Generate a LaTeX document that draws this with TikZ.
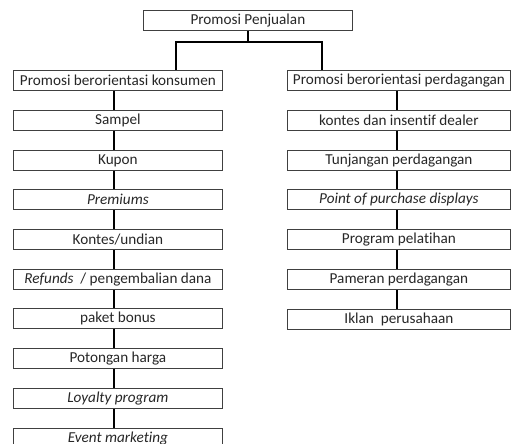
\documentclass[tikz,border=0pt]{standalone}
\usepackage{fontspec}
\setmainfont{Carlito}[RawFeature=-liga]
\begin{document}
\begin{tikzpicture}[x=1pt,y=-1pt,
  box/.style={draw=black!75, line width=0.8pt, minimum height=20pt, inner sep=0pt,
    anchor=north west, font=\fontsize{15.2}{16}\selectfont, text=black!85},
  lbox/.style={box, minimum width=209pt},
  rbox/.style={box, minimum width=223pt},
  conn/.style={line width=1.6pt, draw=black}]
\useasboundingbox (0,0) rectangle (511,444);
\node[lbox] (top) at (143,10) {Promosi Penjualan};
% left column
\node[lbox] (l0) at (13,70) {Promosi berorientasi konsumen};
\node[lbox] (l1) at (13,110) {Sampel};
\node[lbox] (l2) at (13,150) {Kupon};
\node[lbox] (l3) at (13,189) {\itshape Premiums};
\node[lbox] (l4) at (13,229) {Kontes/undian};
\node[lbox] (l5) at (13,269) {\textit{Refunds}~ / pengembalian dana};
\node[lbox] (l6) at (13,308) {paket bonus};
\node[lbox] (l7) at (13,348) {Potongan harga};
\node[lbox] (l8) at (13,388) {\itshape Loyalty program};
\node[lbox] (l9) at (13,428) {\itshape Event marketing};
% right column
\node[rbox] (r0) at (287,70) {Promosi berorientasi perdagangan};
\node[rbox] (r1) at (287,110) {kontes dan insentif dealer};
\node[rbox] (r2) at (287,150) {Tunjangan perdagangan};
\node[rbox] (r3) at (287,189) {\itshape Point of purchase displays};
\node[rbox] (r4) at (287,229) {Program pelatihan};
\node[rbox] (r5) at (287,269) {Pameran perdagangan};
\node[rbox] (r6) at (287,309) {Iklan~ perusahaan};
% connectors
\coordinate (jl) at (176,42);
\coordinate (jr) at (322,42);
\coordinate (lx) at (114,0);
\coordinate (rx) at (397,0);
\draw[conn] (top.south) -- (top.south |- jl);
\draw[conn] (l0.north -| jl) -- (jl) -- (jr) -- (r0.north -| jr);
\foreach \a/\b in {l0/l1,l1/l2,l2/l3,l3/l4,l4/l5,l5/l6,l6/l7,l7/l8,l8/l9}
  \draw[conn] (\a.south -| lx) -- (\b.north -| lx);
\foreach \a/\b in {r0/r1,r1/r2,r2/r3,r3/r4,r4/r5,r5/r6}
  \draw[conn] (\a.south -| rx) -- (\b.north -| rx);
\end{tikzpicture}
\end{document}
